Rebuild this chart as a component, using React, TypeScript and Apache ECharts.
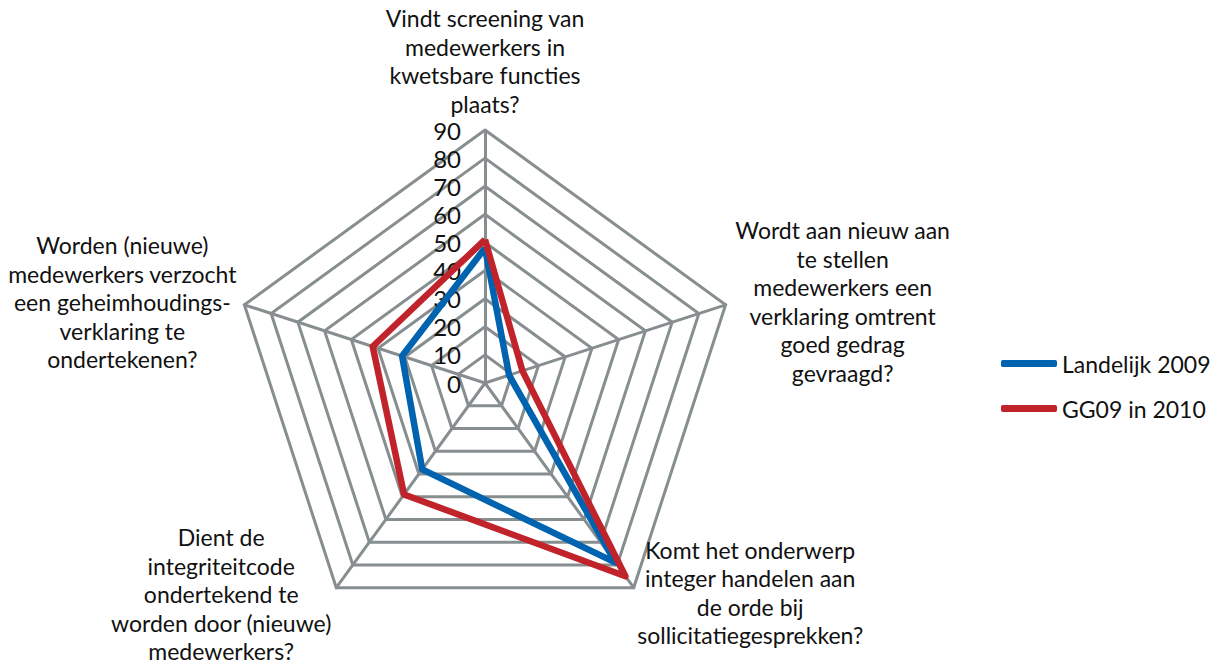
import React, { useEffect, useRef } from "react";
import * as echarts from "echarts";

const indicatorNames = [
  "Vindt screening van\nmedewerkers in\nkwetsbare functies\nplaats?",
  "Worden (nieuwe)\nmedewerkers verzocht\neen geheimhoudings-\nverklaring te\nondertekenen?",
  "Dient de\nintegriteitcode\nondertekend te\nworden door (nieuwe)\nmedewerkers?",
  "Komt het onderwerp\ninteger handelen aan\nde orde bij\nsollicitatiegesprekken?",
  "Wordt aan nieuw aan\nte stellen\nmedewerkers een\nverklaring omtrent\ngoed gedrag\ngevraagd?",
];
const seriesNames = ["Landelijk 2009", "GG09 in 2010"];
const landelijk2009 = [48, 31, 38, 79, 9];
const gg09in2010 = [51, 42, 49, 85, 14];
const axisMax = 90;
const axisSplits = 9;

const FONT = "Lato, 'Open Sans', sans-serif";
const GRID = "#878e90";

export default function App() {
  const ref = useRef<HTMLDivElement>(null);
  useEffect(() => {
    document.body.style.margin = "0";
    const chart = echarts.init(ref.current!, null, { renderer: "svg" });
    const nameStyles = [
      { verticalAlign: "bottom" },
      { verticalAlign: "middle" },
      { verticalAlign: "middle" },
      { verticalAlign: "middle" },
      { verticalAlign: "middle" },
    ];
    const gaps = [12, 8, 8, 6, 10];
    const indicator = indicatorNames.map((n, i) => {
      const o: any = {
        name: n,
        min: 0,
        max: axisMax,
        nameGap: gaps[i],
        nameTextStyle: nameStyles[i],
      };
      if (i === 0) {
        o.axisLabel = {
          show: true,
          color: "#111",
          fontSize: 24,
          fontFamily: FONT,
          margin: 24,
        };
      }
      return o;
    });
    chart.setOption({
      animation: false,
      textStyle: { fontFamily: FONT },
      legend: {
        orient: "vertical",
        left: 996,
        top: 347,
        itemWidth: 56,
        itemHeight: 7,
        itemGap: 22,
        icon: "roundRect",
        textStyle: { fontSize: 23, lineHeight: 23, color: "#111", fontFamily: FONT },
        data: seriesNames,
      },
      radar: {
        center: [485, 383],
        radius: 253,
        startAngle: 90,
        shape: "polygon",
        splitNumber: axisSplits,
        indicator,
        axisName: {
          color: "#111",
          fontSize: 23,
          fontFamily: FONT,
          formatter: (v: string) =>
            v
              .split("\n")
              .map((l) => "{c|" + l + "}")
              .join("\n"),
          rich: {
            c: {
              align: "center",
              fontSize: 23,
              lineHeight: 28.5,
              color: "#111",
              fontFamily: FONT,
            },
          },
        },
        axisLine: { lineStyle: { color: GRID, width: 3 } },
        splitLine: { lineStyle: { color: GRID, width: 3 } },
        splitArea: { show: false },
        axisTick: { show: false },
        axisLabel: { show: false },
      },
      series: [
        {
          type: "radar",
          symbol: "none",
          data: [
            {
              name: seriesNames[0],
              value: landelijk2009,
              lineStyle: { color: "#0063b0", width: 6.5 },
              itemStyle: { color: "#0063b0" },
            },
            {
              name: seriesNames[1],
              value: gg09in2010,
              lineStyle: { color: "#c1232b", width: 6.5 },
              itemStyle: { color: "#c1232b" },
            },
          ],
        },
      ],
    });
    return () => chart.dispose();
  }, []);
  return <div ref={ref} style={{ width: 1224, height: 666 }} />;
}
